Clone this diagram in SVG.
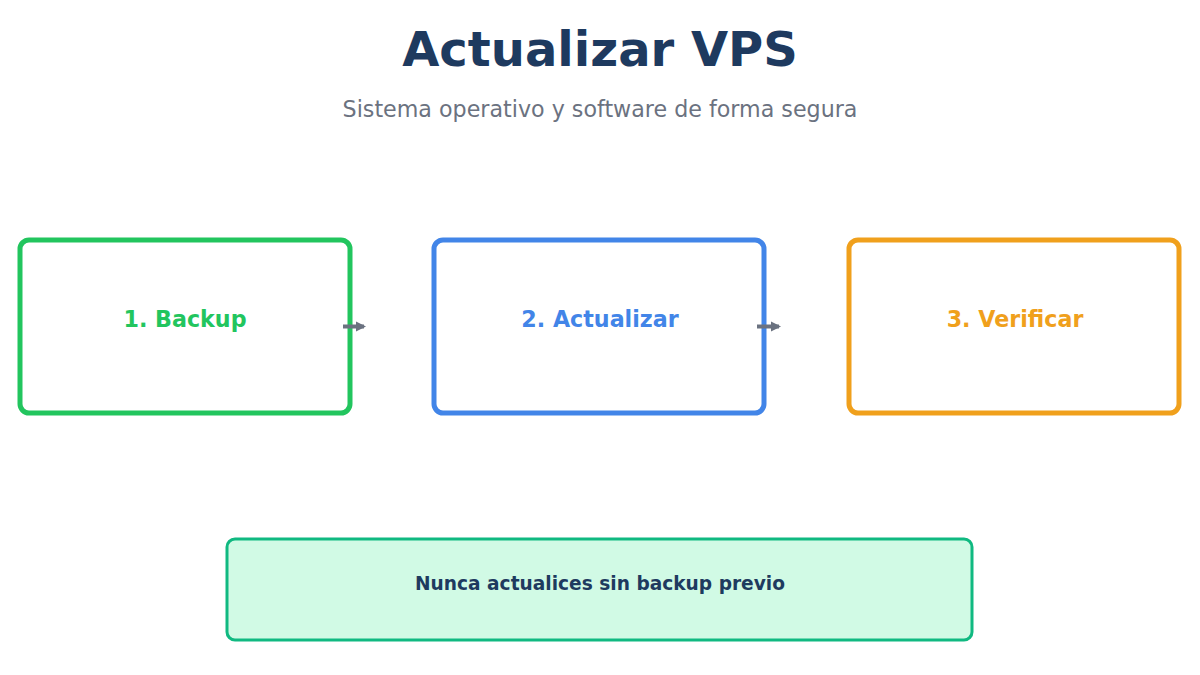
<svg xmlns="http://www.w3.org/2000/svg" width="1200" height="675" viewBox="0 0 1200 675">
<defs>
<style>
text{font-family:"DejaVu Sans","Noto Sans",sans-serif;text-anchor:middle}
.title{font-size:48px;font-weight:bold;fill:#1e3a5f}
.sub{font-size:22.2px;fill:#6b7280}
.step{fill:#fff;stroke-width:5}
.lbl{font-size:22.2px;font-weight:bold}
.conn{stroke:#6b7280;stroke-width:4;fill:none;marker-end:url(#ah)}
</style>
<marker id="ah" viewBox="0 0 10 10" refX="8" refY="5" markerWidth="2.6" markerHeight="2.6" orient="auto" markerUnits="strokeWidth">
<path d="M0,0 L10,5 L0,10 z" fill="#6b7280"/>
</marker>
</defs>
<rect width="1200" height="675" fill="#fff"/>
<text class="title" x="600" y="66">Actualizar VPS</text>
<text class="sub" x="600" y="117">Sistema operativo y software de forma segura</text>
<g id="n1">
<rect class="step" x="20" y="240" width="330" height="173" rx="9" stroke="#22c55e"/>
<text class="lbl" x="185" y="327" fill="#22c55e">1. Backup</text>
</g>
<g id="n2">
<rect class="step" x="434" y="240" width="330" height="173" rx="9" stroke="#4285e8"/>
<text class="lbl" x="600" y="327" fill="#4285e8">2. Actualizar</text>
</g>
<g id="n3">
<rect class="step" x="849" y="240" width="330" height="173" rx="9" stroke="#f0a01c"/>
<text class="lbl" x="1015" y="327" fill="#f0a01c">3. Verificar</text>
</g>
<g id="connectors">
<line class="conn" x1="343" y1="326.5" x2="364" y2="326.5"/>
<line class="conn" x1="757" y1="326.5" x2="779" y2="326.5"/>
</g>
<g id="note">
<rect x="227" y="539" width="745" height="101" rx="8" fill="#d1fae5" stroke="#10b981" stroke-width="3"/>
<text x="600" y="590" font-size="18.6" font-weight="bold" fill="#1e3a5f">Nunca actualices sin backup previo</text>
</g>
</svg>
